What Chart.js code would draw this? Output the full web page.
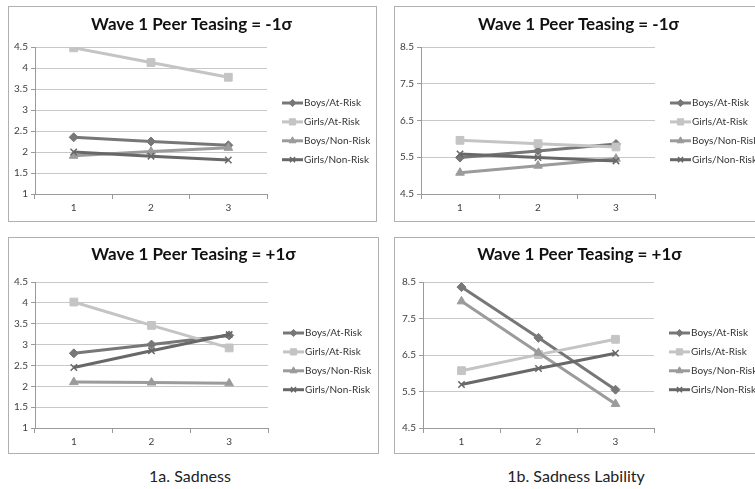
<!DOCTYPE html>
<html><head><meta charset="utf-8">
<script src="https://cdn.jsdelivr.net/npm/chart.js@4/dist/chart.umd.min.js"></script>
<style>
html,body{margin:0;padding:0;width:755px;height:489px;overflow:hidden;background:#fff;}
.frame{position:absolute;border:1px solid #b0b0b0;box-sizing:border-box;}
canvas{position:absolute;}
.cap{position:absolute;font-family:Lato,sans-serif;font-size:16px;color:#222;transform:translate(-50%,-50%);white-space:nowrap;}
</style></head><body>
<div class="frame" style="left:8px;top:6px;width:369px;height:216px"></div>
<div class="frame" style="left:394px;top:6px;width:369px;height:216px"></div>
<div class="frame" style="left:8px;top:237px;width:371px;height:217px"></div>
<div class="frame" style="left:394px;top:237px;width:371px;height:217px"></div>
<canvas id="c1" width="367" height="214" style="left:9px;top:7px;width:367px;height:214px"></canvas>
<canvas id="c2" width="367" height="214" style="left:395px;top:7px;width:367px;height:214px"></canvas>
<canvas id="c3" width="369" height="215" style="left:9px;top:238px;width:369px;height:215px"></canvas>
<canvas id="c4" width="369" height="215" style="left:395px;top:238px;width:369px;height:215px"></canvas>
<div class="cap" style="left:190px;top:475px">1a. Sadness</div>
<div class="cap" style="left:576px;top:475px">1b. Sadness Lability</div>
<script>
// ---- data ----
const waves = ['1', '2', '3'];
const seriesNames = ['Boys/At-Risk', 'Girls/At-Risk', 'Boys/Non-Risk', 'Girls/Non-Risk'];
const titleLow = 'Wave 1 Peer Teasing = -1\u03c3';
const titleHigh = 'Wave 1 Peer Teasing = +1\u03c3';
const sadnessTicks = [1, 1.5, 2, 2.5, 3, 3.5, 4, 4.5];
const labilityTicks = [4.5, 5.5, 6.5, 7.5, 8.5];
// Sadness, teasing -1 sd
const sadLowBoysAtRisk = [2.35, 2.25, 2.16];
const sadLowGirlsAtRisk = [4.48, 4.13, 3.78];
const sadLowBoysNonRisk = [1.91, 2.01, 2.10];
const sadLowGirlsNonRisk = [2.00, 1.90, 1.81];
// Lability, teasing -1 sd
const labLowBoysAtRisk = [5.49, 5.67, 5.86];
const labLowGirlsAtRisk = [5.96, 5.87, 5.78];
const labLowBoysNonRisk = [5.08, 5.27, 5.46];
const labLowGirlsNonRisk = [5.59, 5.49, 5.40];
// Sadness, teasing +1 sd
const sadHighBoysAtRisk = [2.79, 3.00, 3.22];
const sadHighGirlsAtRisk = [4.02, 3.46, 2.92];
const sadHighBoysNonRisk = [2.10, 2.09, 2.07];
const sadHighGirlsNonRisk = [2.45, 2.85, 3.24];
// Lability, teasing +1 sd
const labHighBoysAtRisk = [8.36, 6.97, 5.55];
const labHighGirlsAtRisk = [6.07, 6.51, 6.93];
const labHighBoysNonRisk = [7.97, 6.56, 5.16];
const labHighGirlsNonRisk = [5.69, 6.13, 6.55];

// ---- styles ----
const colors = ['#777777', '#c4c4c4', '#9b9b9b', '#686868'];
const pStyles = ['rectRot', 'rect', 'triangle', 'crossRot'];
const pRadius = [4.5, 5.5, 5, 4.5];
const FONT = 'Lato, "Open Sans", sans-serif';

const sideLegend = {
  id: 'sideLegend',
  afterDraw(chart, args, o) {
    const ctx = chart.ctx, ca = chart.chartArea;
    chart.data.datasets.forEach((ds, i) => {
      const y = o.top + i * o.step;
      const x0 = ca.right + o.gap, x1 = x0 + o.len;
      ctx.save();
      ctx.strokeStyle = ds.borderColor; ctx.lineWidth = ds.borderWidth;
      ctx.beginPath(); ctx.moveTo(x0, y); ctx.lineTo(x1, y); ctx.stroke();
      ctx.fillStyle = ds.pointBackgroundColor; ctx.strokeStyle = ds.pointBorderColor;
      ctx.lineWidth = ds.pointBorderWidth;
      Chart.helpers.drawPoint(ctx, {pointStyle: ds.pointStyle, radius: ds.pointRadius * 0.8, borderWidth: ds.pointBorderWidth, rotation: 0}, (x0 + x1) / 2, y);
      ctx.fillStyle = '#333'; ctx.font = '10px ' + FONT; ctx.textBaseline = 'middle'; ctx.textAlign = 'left';
      ctx.fillText(ds.label, x1 + 1, y);
      ctx.restore();
    });
  }
};

const centerTitle = {
  id: 'centerTitle',
  afterDraw(chart, args, o) {
    const ctx = chart.ctx;
    ctx.save();
    ctx.fillStyle = '#111'; ctx.font = 'bold 17px ' + FONT;
    ctx.textAlign = 'center'; ctx.textBaseline = 'middle';
    ctx.fillText(o.text, chart.width / 2 + o.dx, o.y);
    ctx.restore();
  }
};

function makeChart(id, title, series, ticks, L) {
  const datasets = series.map((vals, i) => ({
    label: seriesNames[i], data: vals,
    borderColor: colors[i], backgroundColor: colors[i],
    pointBackgroundColor: colors[i], pointBorderColor: colors[i],
    borderWidth: 3, pointBorderWidth: i === 3 ? 1.5 : 1,
    pointStyle: pStyles[i], pointRadius: pRadius[i], tension: 0, order: 3 - i
  }));
  return new Chart(document.getElementById(id), {
    type: 'line',
    data: {labels: waves, datasets},
    plugins: [sideLegend, centerTitle],
    options: {
      responsive: false, animation: false, devicePixelRatio: 1,
      layout: {padding: {left: 0, top: L.top, right: L.right, bottom: 0}},
      plugins: {
        legend: {display: false}, tooltip: {enabled: false}, title: {display: false},
        centerTitle: {text: title, y: L.tY, dx: L.tDx},
        sideLegend: {top: L.legTop, step: 18.9, gap: 15, len: 21}
      },
      scales: {
        x: {
          offset: true,
          grid: {display: true, drawOnChartArea: false, drawTicks: true, tickLength: 5, tickColor: '#9a9a9a', offset: true},
          border: {color: '#9a9a9a', width: 1},
          ticks: {font: {family: FONT, size: 10}, color: '#404040', padding: 3},
          afterFit(s) { s.height = L.xH; }
        },
        y: {
          min: ticks[0], max: ticks[ticks.length - 1],
          afterBuildTicks(s) { s.ticks = ticks.map(v => ({value: v})); },
          grid: {color: '#c8c8c8', tickLength: 4, tickColor: '#9a9a9a'},
          border: {color: '#9a9a9a', width: 1},
          ticks: {font: {family: FONT, size: 10}, color: '#404040', padding: 3, callback: v => String(v)},
          afterFit(s) { s.width = L.yW; }
        }
      }
    }
  });
}

makeChart('c1', titleLow, [sadLowBoysAtRisk, sadLowGirlsAtRisk, sadLowBoysNonRisk, sadLowGirlsNonRisk], sadnessTicks,
  {top: 40, right: 109, tY: 18, tDx: -1, xH: 27, yW: 26, legTop: 96});
makeChart('c2', titleLow, [labLowBoysAtRisk, labLowGirlsAtRisk, labLowBoysNonRisk, labLowGirlsNonRisk], labilityTicks,
  {top: 40, right: 107, tY: 18, tDx: 0, xH: 27, yW: 26, legTop: 96});
makeChart('c3', titleHigh, [sadHighBoysAtRisk, sadHighGirlsAtRisk, sadHighBoysNonRisk, sadHighGirlsNonRisk], sadnessTicks,
  {top: 44, right: 110, tY: 17, tDx: 0, xH: 25, yW: 26, legTop: 95});
makeChart('c4', titleHigh, [labHighBoysAtRisk, labHighGirlsAtRisk, labHighBoysNonRisk, labHighGirlsNonRisk], labilityTicks,
  {top: 44, right: 110, tY: 17, tDx: 0, xH: 25, yW: 28, legTop: 95});
</script>
</body></html>
